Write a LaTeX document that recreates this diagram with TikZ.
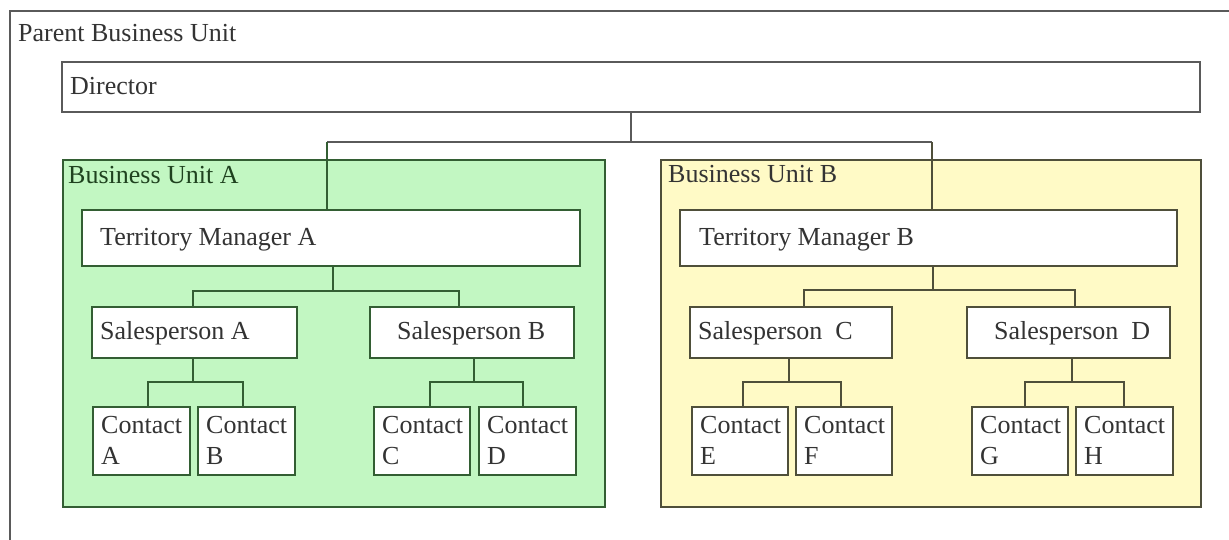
\documentclass[tikz,border=0pt]{standalone}
\usepackage{fontspec}
\setmainfont{Liberation Serif}
\usetikzlibrary{fit}
\definecolor{outergray}{HTML}{5A5A5A}
\definecolor{greenfill}{HTML}{C2F7C2}
\definecolor{yellowfill}{HTML}{FFFAC6}
\definecolor{greenline}{HTML}{335E33}
\definecolor{yellowline}{HTML}{4F4F3A}
\definecolor{textgray}{HTML}{333333}
\definecolor{textgreen}{HTML}{1F421F}
\begin{document}
\begin{tikzpicture}[x=1pt,y=-1pt,
  box/.style={draw=outergray, line width=1.8pt, fill=white, inner sep=0pt},
  lbl/.style={anchor=base west, inner sep=0pt, text=textgray, font=\fontsize{26}{31}\selectfont},
  conn/.style={draw=outergray, line width=1.8pt}]
\useasboundingbox (0,0) rectangle (1229,539);
\clip (0,0) rectangle (1229,539);
\fill[white] (0,0) rectangle (1229,539);
% parent frame
\node[box, fill=none, fit={(10,11) (1270,580)}] (parent) {};
\node[lbl] (tparent) at (18,41) {Parent Business Unit};
% director
\node[box, fit={(62,62) (1200,112)}] (dir) {};
\node[lbl] (tdir) at (70,94) {Director};
% business units
\node[box, draw=greenline, fill=greenfill, fit={(63,160) (605,507)}] (buA) {};
\node[lbl, text=textgreen] (tbuA) at (68,183) {Business Unit A};
\node[box, draw=yellowline, fill=yellowfill, fit={(661,160) (1201,507)}] (buB) {};
\node[lbl] (tbuB) at (668,182) {Business Unit B};
% director connectors
\coordinate (jA) at (327,142);
\coordinate (jB) at (932,142);
\draw[conn] (dir.south) -- (dir.south |- jA);
\draw[conn] (jA) -- (jB);
\draw[conn, draw=greenline] (jA) -- (327,160);
\draw[conn, draw=yellowline] (jB) -- (932,160);
% territory managers
\node[box, draw=greenline, fit={(82,210) (580,266)}] (tmA) {};
\node[lbl] (ttmA) at (100,245) {Territory Manager A};
\node[box, draw=yellowline, fit={(680,210) (1177,266)}] (tmB) {};
\node[lbl] (ttmB) at (699,245) {Territory Manager B};
\draw[conn, draw=greenline] (327,160) -- (jA |- tmA.north);
\draw[conn, draw=yellowline] (932,160) -- (jB |- tmB.north);
% salespersons
\node[box, draw=greenline, fit={(92,307) (297,358)}] (saA) {};
\node[lbl] (tsaA) at (100,339) {Salesperson A};
\node[box, draw=greenline, fit={(370,307) (574,358)}] (saB) {};
\node[lbl] (tsaB) at (397,339) {Salesperson B};
\node[box, draw=yellowline, fit={(690,307) (892,358)}] (saC) {};
\node[lbl] (tsaC) at (698,339) {Salesperson\ \ C};
\node[box, draw=yellowline, fit={(967,307) (1170,358)}] (saD) {};
\node[lbl] (tsaD) at (994,339) {Salesperson\ \ D};
% TM -> salesperson connectors
\coordinate (a1) at (193,291);
\coordinate (a2) at (459,291);
\coordinate (tA) at (333,291);
\draw[conn, draw=greenline] (tA |- tmA.south) -- (tA);
\draw[conn, draw=greenline] (a1 |- saA.north) -- (a1) -- (a2) -- (a2 |- saB.north);
\coordinate (b1) at (804,290);
\coordinate (b2) at (1075,290);
\coordinate (tB) at (933,290);
\draw[conn, draw=yellowline] (tB |- tmB.south) -- (tB);
\draw[conn, draw=yellowline] (b1 |- saC.north) -- (b1) -- (b2) -- (b2 |- saD.north);
% contacts
\foreach \n/\l/\xa/\xb/\bc in {ctA/A/93/190/greenline, ctB/B/198/295/greenline, ctC/C/374/470/greenline, ctD/D/479/576/greenline, ctE/E/692/788/yellowline, ctF/F/796/892/yellowline, ctG/G/972/1068/yellowline, ctH/H/1076/1173/yellowline}{
  \node[box, draw=\bc, fit={(\xa,407) (\xb,475)}] (\n) {};
  \node[lbl] (\n t1) at (\xa+8,433) {Contact};
  \node[lbl] (\n t2) at (\xa+8,464) {\l};
}
% salesperson -> contact connectors
\foreach \s/\c/\xl/\xr/\xm/\lc/\cl/\cr in {saA/greenline/148/243/193/greenline/ctA/ctB, saB/greenline/430/523/474/greenline/ctC/ctD, saC/yellowline/743/841/789/yellowline/ctE/ctF, saD/yellowline/1025/1124/1072/yellowline/ctG/ctH}{
  \coordinate (\s m) at (\xm,382);
  \coordinate (\s l) at (\xl,382);
  \coordinate (\s r) at (\xr,382);
  \draw[conn, draw=\lc] (\s m |- \s.south) -- (\s m);
  \draw[conn, draw=\lc] (\s l |- \cl.north) -- (\s l) -- (\s r) -- (\s r |- \cr.north);
}
\end{tikzpicture}
\end{document}
